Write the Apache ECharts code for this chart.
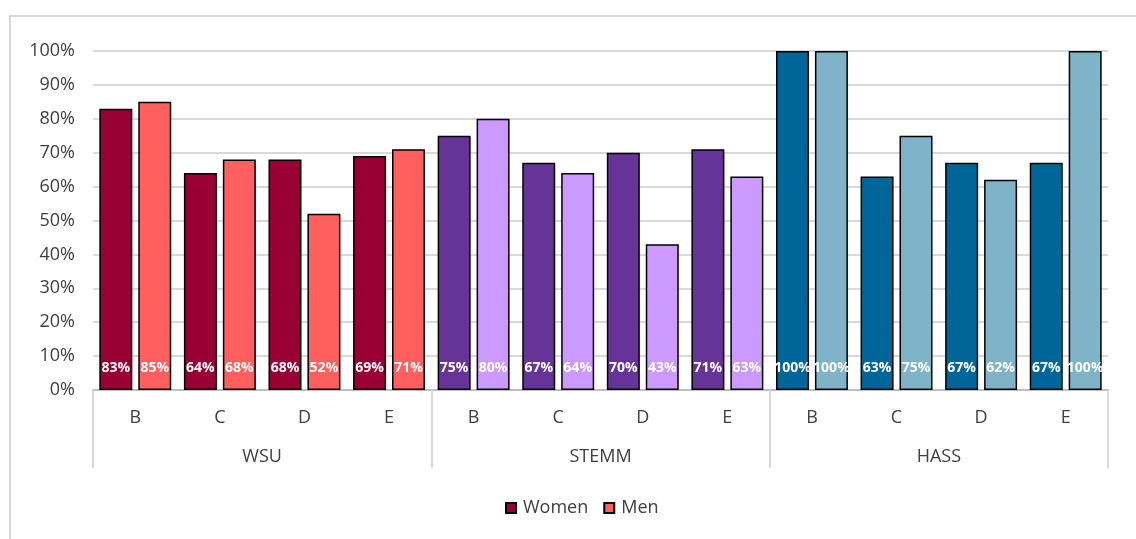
<!DOCTYPE html>
<html>
<head>
<meta charset="utf-8">
<script src="https://cdn.jsdelivr.net/npm/echarts@6/dist/echarts.min.js"></script>
<style>
  html, body { margin: 0; padding: 0; background: #ffffff; }
  #chart { width: 1136px; height: 539px; }
</style>
</head>
<body>
<div id="chart"></div>
<script>
// Share of staff by level, grouped by faculty cluster
const groups = ['WSU', 'STEMM', 'HASS'];
const levels = ['B', 'C', 'D', 'E'];
const women = [83, 64, 68, 69, 75, 67, 70, 71, 100, 63, 67, 67];
const men = [85, 68, 52, 71, 80, 64, 43, 63, 100, 75, 62, 100];
const yTicks = { min: 0, max: 100, interval: 10 };

// Colour pair for each group: [women, men]
const groupColors = [
  ['#990033', '#ff5f5f'],
  ['#663399', '#cc99ff'],
  ['#006699', '#7fb3c8']
];

const categories = [];
groups.forEach(function () { levels.forEach(function (l) { categories.push(l); }); });

const FONT = '"Open Sans", "Noto Sans", sans-serif';
const TEXT = '#404040';

function makeData(values, which) {
  return values.map(function (v, i) {
    const g = Math.floor(i / levels.length);
    return { value: v, itemStyle: { color: groupColors[g][which] } };
  });
}

const labelStyle = {
  show: true,
  position: 'insideBottom',
  distance: 15,
  color: '#ffffff',
  fontWeight: 'bold',
  fontSize: 14,
  fontFamily: FONT,
  formatter: function (p) { return p.value + '%'; }
};

const chart = echarts.init(document.getElementById('chart'), null, { renderer: 'canvas' });
chart.setOption({
  animation: false,
  backgroundColor: '#ffffff',
  graphic: [{
    type: 'rect',
    shape: { x: 10, y: 16, width: 1300, height: 700 },
    style: { fill: 'none', stroke: '#d9d9d9', lineWidth: 2 },
    silent: true,
    z: -10
  }],
  grid: { left: 93, right: 28, top: 51, bottom: 149 },
  legend: {
    bottom: 17,
    left: 500,
    itemWidth: 10,
    itemHeight: 10,
    itemGap: 15,
    icon: 'rect',
    textStyle: { fontFamily: FONT, fontSize: 18, color: TEXT, padding: [0, 0, 0, 2] },
    data: ['Women', 'Men']
  },
  xAxis: [{
    type: 'category',
    data: categories,
    position: 'bottom',
    axisLine: { show: true, lineStyle: { color: '#bfbfbf', width: 2 } },
    axisTick: { show: false },
    axisLabel: { fontFamily: FONT, fontSize: 18, color: TEXT, margin: 19 }
  }, {
    type: 'category',
    data: groups,
    position: 'bottom',
    axisLine: { show: false },
    axisTick: { show: true, length: 78, lineStyle: { color: '#d9d9d9', width: 2 } },
    axisLabel: { fontFamily: FONT, fontSize: 18, color: TEXT, margin: 58 }
  }],
  yAxis: {
    type: 'value',
    min: yTicks.min,
    max: yTicks.max,
    interval: yTicks.interval,
    axisLine: { show: false },
    axisTick: { show: false },
    splitLine: { lineStyle: { color: '#d9d9d9', width: 2 } },
    axisLabel: { fontFamily: FONT, fontSize: 18, color: TEXT, margin: 18, formatter: '{value}%' }
  },
  series: [{
    name: 'Women',
    type: 'bar',
    xAxisIndex: 0,
    barWidth: 33,
    barGap: '18%',
    itemStyle: { color: groupColors[0][0], borderColor: '#000000', borderWidth: 1.5 },
    label: labelStyle,
    data: makeData(women, 0)
  }, {
    name: 'Men',
    type: 'bar',
    xAxisIndex: 0,
    barWidth: 33,
    barGap: '18%',
    itemStyle: { color: groupColors[0][1], borderColor: '#000000', borderWidth: 1.5 },
    label: labelStyle,
    data: makeData(men, 1)
  }]
});
</script>
</body>
</html>
